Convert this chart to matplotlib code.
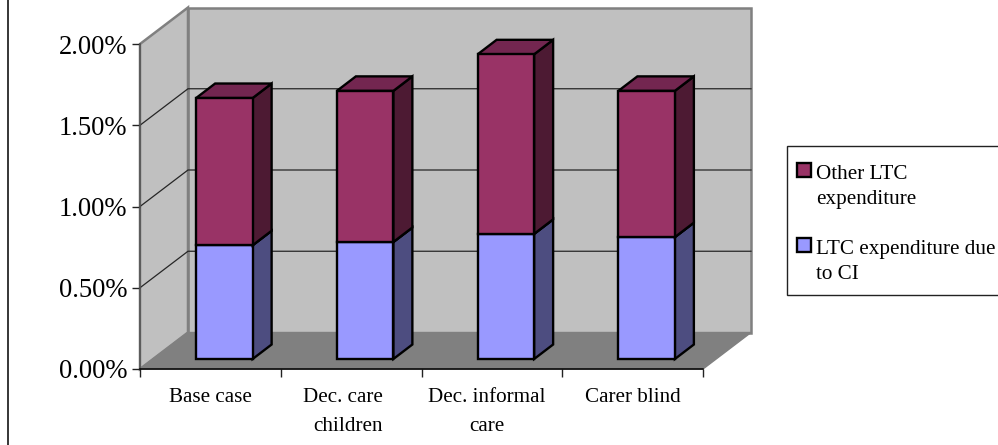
import matplotlib
matplotlib.use("Agg")
import matplotlib.pyplot as plt
from matplotlib.patches import Polygon, Rectangle
from matplotlib.lines import Line2D
import numpy as np

categories = ["Base case", "Dec. care\nchildren", "Dec. informal\ncare", "Carer blind"]
ci_expenditure = [0.70, 0.72, 0.77, 0.75]      # percent, lower segment
other_expenditure = [0.906, 0.93, 1.105, 0.90]  # percent, upper segment
value_ticks = [0.0, 0.5, 1.0, 1.5, 2.0]
value_tick_labels = ["0.00%", "0.50%", "1.00%", "1.50%", "2.00%"]
legend_labels = ["Other LTC\nexpenditure", "LTC expenditure due\nto CI"]
# horizontal nudge and line alignment of each category label
label_shift = [0, -8, -5, 0]
label_align = ["center", "right", "center", "center"]

plt.rcParams["font.family"] = ["Liberation Serif", "DejaVu Serif"]
W, H = 998, 445
fig = plt.figure(figsize=(W / 100, H / 100), dpi=100, facecolor="white")

# Front plane of the plot box, in pixels
x0, x1, y0, y1 = 140, 703, 369, 44
ax = fig.add_axes([x0 / W, 1 - y0 / H, (x1 - x0) / W, (y0 - y1) / H])
ax.set_xlim(0, 4)
ax.set_ylim(0, 2)
ax.patch.set_visible(False)

ux = (x1 - x0) / 4      # pixels per category
uy = (y0 - y1) / 2      # pixels per percent


def off(dx_px, dy_px):
    """Oblique projection offset, pixels to data units."""
    return dx_px / ux, dy_px / uy


def poly(pts, **kw):
    p = Polygon(pts, closed=True, clip_on=False, **kw)
    ax.add_patch(p)
    return p


dx, dy = off(48, 36.5)
wall = "#c0c0c0"
frame = "#808080"

# Back wall, side wall, floor
poly([(dx, dy), (4 + dx, dy), (4 + dx, 2 + dy), (dx, 2 + dy)],
     facecolor=wall, edgecolor=frame, lw=1.8, zorder=1)
poly([(0, 0), (dx, dy), (dx, 2 + dy), (0, 2)],
     facecolor=wall, edgecolor=frame, lw=1.8, zorder=1.1)
poly([(0, 0), (4, 0), (4 + dx, dy), (dx, dy)],
     facecolor=frame, edgecolor=frame, lw=1, zorder=1.2)

# Gridlines across side and back walls
for v in value_ticks[1:-1]:
    ax.plot([0, dx, 4 + dx], [v, v + dy, v + dy], color="#262626", lw=0.9,
            clip_on=False, zorder=1.3, solid_joinstyle="miter")

# Stacked 3D columns
bar_w = 56.5 / ux
bar_dx, bar_dy = off(19, 14.5)
inset_x, inset_y = off(14, 10)
pad = (1 - bar_w) / 2


def column(left, bottom, top, face, side, lid, z):
    right = left + bar_w
    style = dict(edgecolor="black", lw=1.7, joinstyle="miter", zorder=z)
    poly([(right, bottom), (right + bar_dx, bottom + bar_dy),
          (right + bar_dx, top + bar_dy), (right, top)], facecolor=side, **style)
    poly([(left, top), (right, top), (right + bar_dx, top + bar_dy),
          (left + bar_dx, top + bar_dy)], facecolor=lid, **style)
    poly([(left, bottom), (right, bottom), (right, top), (left, top)],
         facecolor=face, **style)


for i, (low, up) in enumerate(zip(ci_expenditure, other_expenditure)):
    left = i + pad + inset_x
    base = inset_y
    column(left, base, base + low, "#9999ff", "#4d4d80", "#7373bf", 3)
    column(left, base + low, base + low + up, "#993366", "#4d1a33", "#732650", 4)

# Axes, ticks and labels
for name in ("top", "right"):
    ax.spines[name].set_visible(False)
ax.spines["left"].set_linewidth(1.2)
ax.spines["left"].set_color("#555555")
ax.spines["left"].set_zorder(2)
ax.spines["bottom"].set_linewidth(1.1)
ax.spines["bottom"].set_color("black")
ax.spines["bottom"].set_zorder(2)
ax.set_yticks(value_ticks)
ax.set_yticklabels(value_tick_labels, fontsize=19.2)
ax.tick_params(axis="y", length=6, width=1, pad=3, color="#222222")
ax.set_xticks(np.arange(5))
ax.set_xticklabels([])
ax.tick_params(axis="x", which="major", length=6, width=1, color="#222222")

# Category labels below the floor
for i, (name, nudge, align) in enumerate(zip(categories, label_shift, label_align)):
    ax.annotate(name, xy=(i + 0.5, 0), xycoords="data",
                xytext=(nudge * 0.72, -14), textcoords="offset points",
                ha="center", va="top", multialignment=align,
                fontsize=15.2, linespacing=1.65, annotation_clip=False)

# Legend box drawn on the figure in pixel units
fig_tr = fig.transFigure
def fx(p): return p / W
def fy(p): return 1 - p / H

fig.add_artist(Rectangle((fx(786.5), fy(295)), 1, (295 - 145.5) / H, transform=fig_tr,
                         facecolor="white", edgecolor="#222222", lw=1))
for label, color, ky, ty in zip(legend_labels, ["#993366", "#9999ff"], [170, 245], [165, 240]):
    fig.add_artist(Rectangle((fx(797), fy(ky + 7)), 14 / W, 14 / H, transform=fig_tr,
                             facecolor=color, edgecolor="black", lw=1.7))
    fig.text(fx(816), fy(ty), label, fontsize=15.2, va="top", ha="left", linespacing=1.42)

# Outer chart border on the left edge
fig.add_artist(Line2D([fx(7.5), fx(7.5)], [0, 1], color="black", lw=1.1, transform=fig_tr))

fig.savefig("out.png", dpi=100)
